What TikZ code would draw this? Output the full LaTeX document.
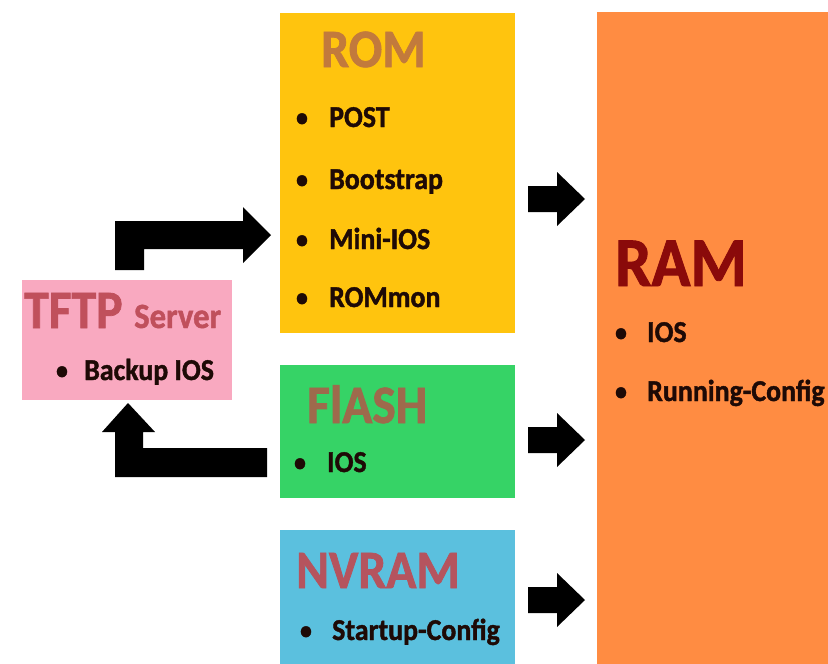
\documentclass[tikz,border=0pt]{standalone}
\usepackage{fontspec}
\setmainfont[FakeStretch=0.92, BoldFeatures={FakeBold=1.3}]{Carlito}
\definecolor{romc}{HTML}{FFC40E}
\definecolor{romt}{HTML}{C27A3C}
\definecolor{ramc}{HTML}{FF8C42}
\definecolor{ramt}{HTML}{8A0A0A}
\definecolor{flac}{HTML}{36D366}
\definecolor{flat}{HTML}{9E6A4C}
\definecolor{nvc}{HTML}{5BC0DE}
\definecolor{nvt}{HTML}{B5545E}
\definecolor{tfc}{HTML}{F9A9C0}
\definecolor{tft}{HTML}{C0505C}
\definecolor{itemc}{HTML}{1E0A06}
\tikzset{
  box/.style={draw=none, inner sep=0pt, outer sep=0pt, anchor=north west},
  ttl/.style={anchor=base west, inner sep=0pt, font=\fontsize{54}{60}\selectfont\bfseries},
  itm/.style={anchor=base west, inner sep=0pt, text=itemc, font=\fontsize{30.3}{34}\selectfont\bfseries},
  bul/.style={anchor=base, inner sep=0pt, text=itemc, font=\fontsize{26}{30}\selectfont\bfseries},
  blk/.style={fill=black, draw=none}
}
\begin{document}
\begin{tikzpicture}[x=1pt,y=-1pt]
\useasboundingbox (0,0) rectangle (828,664);
\fill[white] (0,0) rectangle (828,664);
% boxes
\node[box, fill=romc, minimum width=235pt, minimum height=320pt] (rom) at (280,13) {};
\node[box, fill=ramc, minimum width=231pt, minimum height=652pt] (ram) at (597,12) {};
\node[box, fill=flac, minimum width=235pt, minimum height=133pt] (flash) at (280,365) {};
\node[box, fill=nvc, minimum width=235pt, minimum height=134pt] (nvram) at (280,530) {};
\node[box, fill=tfc, minimum width=210pt, minimum height=120pt] (tftp) at (22,280) {};
% ROM
\node[ttl, text=romt] (romtitle) at (321,67) {ROM};
\node[bul] (rb1) at (302,126) {•};
\node[itm] (ri1) at (329,127) {POST};
\node[bul] (rb2) at (302,188) {•};
\node[itm] (ri2) at (329,189) {Bootstrap};
\node[bul] (rb3) at (302,248) {•};
\node[itm] (ri3) at (329,249) {Mini-IOS};
\node[bul] (rb4) at (302,306) {•};
\node[itm] (ri4) at (329,307) {ROMmon};
% RAM
\node[ttl, text=ramt, font=\fontsize{70}{76}\selectfont\bfseries] (ramtitle) at (615,286) {RAM};
\node[bul] (mb1) at (621,341) {•};
\node[itm] (mi1) at (647,342) {IOS};
\node[bul] (mb2) at (621,400) {•};
\node[itm] (mi2) at (647,401) {Running-Config};
% FLASH
\node[ttl, text=flat] (flashtitle) at (307,423) {FlASH};
\node[bul] (fb1) at (300,471) {•};
\node[itm] (fi1) at (327,472) {IOS};
% NVRAM
\node[ttl, text=nvt] (nvtitle) at (296,588) {NVRAM};
\node[bul] (nb1) at (306,639) {•};
\node[itm] (ni1) at (332,640) {Startup-Config};
% TFTP
\node[ttl, text=tft] (tftitle) at (24,328) {TFTP};
\node[ttl, text=tft, font=\fontsize{35.5}{40}\selectfont\bfseries] (tfserver) at (134,328) {Server};
\node[bul] (tb1) at (62,379) {•};
\node[itm] (ti1) at (84,380) {Backup IOS};
% block arrows
\fill[blk] (115,270) -- (115,221) -- (243,221) -- (243,207) -- (271,235) -- (243,263) -- (243,249) -- (144,249) -- (144,270) -- cycle;
\fill[blk] (128,403) -- (155,432) -- (143,432) -- (143,448) -- (267,448) -- (267,477) -- (115,477) -- (115,432) -- (102,432) -- cycle;
\foreach \yc in {199,440,600}{
  \fill[blk] (528,\yc-13) -- (557,\yc-13) -- (557,\yc-27) -- (585,\yc) -- (557,\yc+27) -- (557,\yc+13) -- (528,\yc+13) -- cycle;
}
\end{tikzpicture}
\end{document}
